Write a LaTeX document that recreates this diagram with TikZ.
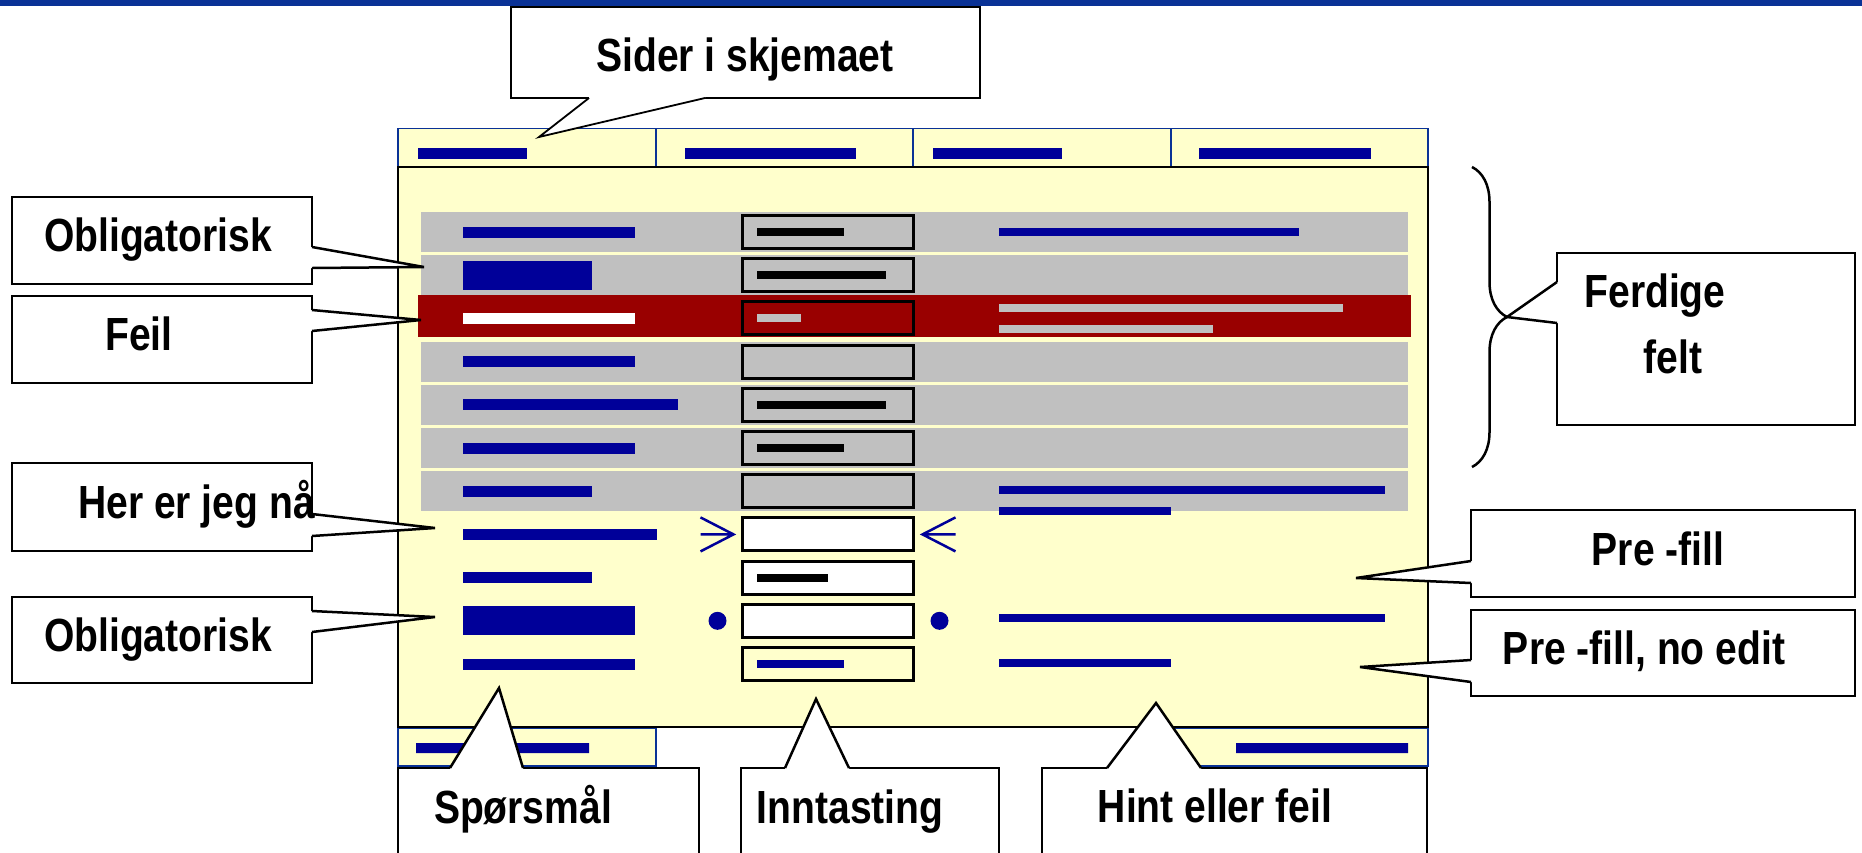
\documentclass[tikz,border=0pt]{standalone}
\usepackage{fontspec}
\setmainfont{Liberation Sans}[FakeStretch=0.84]
\usepackage{tikz}
\usetikzlibrary{calc,decorations.pathreplacing}
\definecolor{topblue}{RGB}{10,50,150}
\definecolor{barblue}{RGB}{0,0,153}
\definecolor{formyellow}{RGB}{255,255,204}
\definecolor{rowgray}{RGB}{192,192,192}
\definecolor{errred}{RGB}{153,0,0}
\tikzset{every node/.style={inner sep=0pt,outer sep=0pt},
    form/.style={draw=black,line width=2.5pt,fill=formyellow},
    pagetab/.style={draw=topblue,line width=1.8pt,fill=formyellow,
        minimum width=257.5,minimum height=38},
    formrow/.style={fill=rowgray,minimum width=987,minimum height=40},
    inbox/.style={draw=black,line width=3pt,minimum width=171,minimum height=33},
    callbox/.style={draw=black,fill=white,line width=2.5pt},
    calloutline/.style={draw=black,line width=2.5pt,line join=miter},
    calltext/.style={font=\fontsize{46.5}{50}\selectfont\bfseries,anchor=base},
    curline/.style={draw=barblue,line width=2.5pt},
    braceline/.style={draw=black,line width=2.5pt,decorate,
        decoration={brace,amplitude=35pt}}}

\begin{document}
\begin{tikzpicture}[x=1pt,y=-1pt]
\useasboundingbox (0,0) rectangle (1862,852);
\clip (0,0) rectangle (1862,852);
\fill[topblue] (0,0) rectangle (1862,6);
% page tabs
\foreach \i in {0,...,3}
    \node[pagetab] (tab\i) at ({527+257.5*\i},147.5) {};
\node[pagetab] (tabL) at (527,747) {};
\node[pagetab] (tabR) at (1299.5,747) {};
\foreach \a/\b in {418/527,685/856,933/1062,1199/1371}
    \fill[barblue] (\a,148) rectangle (\b,159);
\fill[barblue] (416,743) rectangle (589,753) (1236,743) rectangle (1408,753);
% the form
\node[form,minimum width=1030,minimum height=560] (form) at (913,447) {};
\foreach \i in {0,1,3,4,5,6}
    \node[formrow] (row\i) at (914.5,{232+43.2*\i}) {};
\node[formrow,fill=errred,minimum width=993,minimum height=42] (row2) at (914.5,316) {};
% questions
\foreach \i/\e/\h/\c in {0/635/11/barblue,1/592/29/barblue,2/635/11/white,
        3/635/11/barblue,4/678/11/barblue,5/635/11/barblue,6/592/11/barblue,
        7/657/11/barblue,8/592/11/barblue,9/635/29/barblue,10/635/11/barblue}
    \fill[\c] (463,{232+43.2*\i-\h/2}) rectangle (\e,{232+43.2*\i+\h/2});
% input fields
\foreach \i/\c in {0/rowgray,1/rowgray,2/errred,3/rowgray,4/rowgray,5/rowgray,
        6/rowgray,7/white,8/white,9/white,10/formyellow}
    \node[inbox,fill=\c] (in\i) at (828,{232+43.2*\i}) {};
\foreach \i/\e/\c in {0/844/black,1/886/black,2/801/rowgray,4/886/black,
        5/844/black,8/828/black,10/844/barblue}
    \fill[\c] (757,{232+43.2*\i-4}) rectangle (\e,{232+43.2*\i+4});
% hints
\foreach \y/\e/\c in {231.5/1299/barblue,307.5/1343/rowgray,329/1213/rowgray,
        490/1385/barblue,511/1171/barblue,618/1385/barblue,662.5/1171/barblue}
    \fill[\c] (999,{\y-4}) rectangle (\e,{\y+4});
% current field and mandatory marks
\draw[curline] ($(in7.west)+(-42,-17)$) -- ($(in7.west)+(-9,0)$) -- ($(in7.west)+(-42,17)$)
    ($(in7.west)+(-42,0)$) -- ($(in7.west)+(-9,0)$);
\draw[curline] ($(in7.east)+(42,-17)$) -- ($(in7.east)+(9,0)$) -- ($(in7.east)+(42,17)$)
    ($(in7.east)+(42,0)$) -- ($(in7.east)+(9,0)$);
\fill[barblue] ($(in9.west)+(-25,0)$) circle (9pt) ($(in9.east)+(26,0)$) circle (9pt);
% brace
\draw[braceline] (1472,167) -- (1472,467);
\coordinate (ferdTip) at (1507,317);
% callouts
\node[callbox,line width=1.8pt,minimum width=469,minimum height=91] (sider) at (745.5,52.5) {};
\coordinate (siderTip) at (539,137);
\fill[white] (sider.south -| 589,0) -- (siderTip) -- (sider.south -| 705,0) -- ++(0,-3) -| cycle;
\draw[calloutline,line width=1.8pt] (sider.south -| 589,0) -- (siderTip) -- (sider.south -| 705,0);
\node[calltext] (tSider) at (745,71) {Sider i skjemaet};

\node[callbox,minimum width=300,minimum height=87] (oblA) at (162,240.5) {};
\coordinate (oblATip) at (424,267);
\fill[white] (oblA.east |- 0,247) -- (oblATip) -- (oblA.east |- 0,268) -- ++(-3,0) |- cycle;
\draw[calloutline] (oblA.east |- 0,247) -- (oblATip) -- (oblA.east |- 0,268);
\node[calltext] (tOblA) at (158,251) {Obligatorisk};

\node[callbox,minimum width=300,minimum height=87] (feil) at (162,339.5) {};
\coordinate (feilTip) at (421,320);
\fill[white] (feil.east |- 0,310) -- (feilTip) -- (feil.east |- 0,331) -- ++(-3,0) |- cycle;
\draw[calloutline] (feil.east |- 0,310) -- (feilTip) -- (feil.east |- 0,331);
\node[calltext] (tFeil) at (139,350) {Feil};

\node[callbox,minimum width=300,minimum height=88] (here) at (162,507) {};
\coordinate (hereTip) at (435,528);
\fill[white] (here.east |- 0,514) -- (hereTip) -- (here.east |- 0,536) -- ++(-3,0) |- cycle;
\draw[calloutline] (here.east |- 0,514) -- (hereTip) -- (here.east |- 0,536);
\node[calltext] (tHere) at (196.5,518) {Her er jeg nå};

\node[callbox,minimum width=300,minimum height=86] (oblB) at (162,640) {};
\coordinate (oblBTip) at (435,617);
\fill[white] (oblB.east |- 0,611) -- (oblBTip) -- (oblB.east |- 0,632) -- ++(-3,0) |- cycle;
\draw[calloutline] (oblB.east |- 0,611) -- (oblBTip) -- (oblB.east |- 0,632);
\node[calltext] (tOblB) at (158,651) {Obligatorisk};

\node[callbox,minimum width=298,minimum height=172] (ferd) at (1706,339) {};
\fill[white] (ferd.west |- 0,282) -- (ferdTip) -- (ferd.west |- 0,323) -- ++(3,0) |- cycle;
\draw[calloutline] (ferd.west |- 0,282) -- (ferdTip) -- (ferd.west |- 0,323);
\node[calltext] (tFerd) at (1655,307) {Ferdige};
\node[calltext] (tFelt) at (1673,373) {felt};

\node[callbox,minimum width=384,minimum height=87] (prefill) at (1663,553.5) {};
\coordinate (prefillTip) at (1356,578);
\fill[white] (prefill.west |- 0,561) -- (prefillTip) -- (prefill.west |- 0,583) -- ++(3,0) |- cycle;
\draw[calloutline] (prefill.west |- 0,561) -- (prefillTip) -- (prefill.west |- 0,583);
\node[calltext] (tPrefill) at (1658,565) {Pre -fill};

\node[callbox,minimum width=384,minimum height=86] (noedit) at (1663,653) {};
\coordinate (noeditTip) at (1360,667);
\fill[white] (noedit.west |- 0,660) -- (noeditTip) -- (noedit.west |- 0,682) -- ++(3,0) |- cycle;
\draw[calloutline] (noedit.west |- 0,660) -- (noeditTip) -- (noedit.west |- 0,682);
\node[calltext] (tNoedit) at (1644,664) {Pre -fill, no edit};

\node[callbox,minimum width=301,minimum height=160] (quest) at (548.5,848) {};
\coordinate (questTip) at (499,688);
\fill[white] (quest.north -| 450,0) -- (questTip) -- (quest.north -| 523,0) -- ++(0,3) -| cycle;
\draw[calloutline] (quest.north -| 450,0) -- (questTip) -- (quest.north -| 523,0);
\node[calltext] (tQuest) at (523,823) {Spørsmål};

\node[callbox,minimum width=258,minimum height=160] (entry) at (870,848) {};
\coordinate (entryTip) at (816,699);
\fill[white] (entry.north -| 785,0) -- (entryTip) -- (entry.north -| 849,0) -- ++(0,3) -| cycle;
\draw[calloutline] (entry.north -| 785,0) -- (entryTip) -- (entry.north -| 849,0);
\node[calltext] (tEntry) at (850,823) {Inntasting};

\node[callbox,minimum width=385,minimum height=160] (hint) at (1234.5,848) {};
\coordinate (hintTip) at (1156,703);
\fill[white] (hint.north -| 1107,0) -- (hintTip) -- (hint.north -| 1201,0) -- ++(0,3) -| cycle;
\draw[calloutline] (hint.north -| 1107,0) -- (hintTip) -- (hint.north -| 1201,0);
\node[calltext] (tHint) at (1215,822) {Hint eller feil};
\end{tikzpicture}
\end{document}
